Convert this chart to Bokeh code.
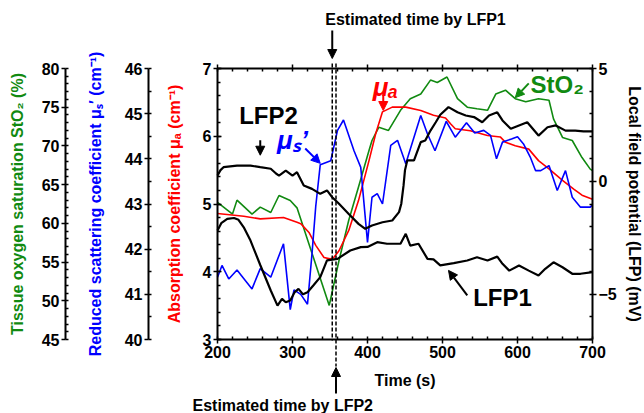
from bokeh.plotting import figure
from bokeh.models import (Range1d, LinearAxis, FixedTicker, Label, Arrow, NormalHead,
                          CustomJSTickFormatter)
from bokeh.embed import file_html
from bokeh.resources import INLINE

# ---------------- data ----------------
time_sto2 = [200, 220, 226, 246, 257, 271, 282, 297, 306, 349, 362, 375, 388, 402, 406, 415, 428,
             444, 457, 471, 484, 493, 506, 520, 533, 546, 560, 571, 584, 597, 611, 628, 642, 648,
             660, 673, 686, 697, 700]
sto2 = [62.7, 61.2, 63.0, 61.2, 62.1, 61.4, 63.6, 62.95, 62.0, 49.4, 55.2, 60.4, 64.7, 69.4, 70.7,
        72.4, 72.0, 74.6, 76.1, 76.7, 78.5, 78.2, 78.9, 76.1, 75.0, 74.8, 74.6, 76.7, 77.2, 76.1,
        75.7, 76.1, 75.9, 73.5, 71.1, 70.7, 68.5, 67.0, 66.8]

time_mua = [200, 235, 257, 288, 306, 311, 322, 331, 342, 350, 355, 362, 375, 388, 402, 411, 420,
            433, 451, 471, 488, 504, 511, 517, 537, 560, 577, 584, 597, 615, 628, 642, 660, 675,
            686, 700]
mua = [4.86, 4.82, 4.78, 4.80, 4.73, 4.71, 4.58, 4.39, 4.21, 4.19, 4.21, 4.31, 4.61, 5.05, 5.64,
       6.04, 6.36, 6.43, 6.43, 6.38, 6.31, 6.27, 6.18, 6.11, 6.08, 6.01, 5.99, 5.91, 5.86, 5.81,
       5.64, 5.52, 5.35, 5.22, 5.13, 5.07]

time_mus = [200, 206, 215, 226, 246, 257, 271, 288, 297, 302, 311, 320, 326, 331, 337, 351, 360,
            368, 382, 391, 400, 406, 413, 420, 431, 440, 451, 471, 480, 490, 505, 517, 532, 543,
            555, 564, 572, 580, 592, 600, 608, 617, 624, 631, 642, 653, 664, 673, 684, 697, 700]
mus = [41.38, 41.64, 41.34, 41.54, 41.12, 41.57, 41.38, 42.12, 40.66, 41.1, 41.0, 40.78, 41.9,
       42.95, 43.87, 43.96, 44.63, 44.86, 44.18, 43.81, 42.15, 43.15, 43.23, 43.0, 44.3, 44.41,
       43.89, 44.96, 44.55, 44.18, 44.83, 44.48, 44.8, 44.57, 44.63, 44.52, 44.0, 44.37, 44.44,
       44.49, 44.33, 44.04, 43.74, 43.74, 43.85, 43.30, 43.74, 43.15, 42.93, 42.93, 42.98]

time_lfp1 = [200, 205, 213, 222, 228, 235, 244, 257, 271, 280, 286, 291, 297, 303, 308, 314, 320,
             328, 337, 346, 360, 377, 391, 400, 413, 426, 444, 451, 457, 468, 480, 488, 497, 515,
             533, 546, 560, 573, 580, 589, 602, 615, 628, 637, 648, 660, 673, 684, 700]
lfp1 = [-2.17, -1.85, -1.66, -1.62, -1.70, -2.03, -2.62, -3.70, -4.83, -5.50, -5.20, -5.35, -5.27,
        -4.90, -4.76, -5.00, -4.91, -4.60, -4.24, -3.50, -3.43, -3.06, -2.91, -2.90, -2.69, -2.76,
        -2.76, -2.32, -2.84, -2.76, -3.43, -3.45, -3.72, -3.62, -3.50, -3.36, -3.50, -3.33, -3.65,
        -3.95, -3.72, -3.95, -4.17, -3.87, -3.58, -3.80, -4.09, -4.09, -4.02]

time_lfp2 = [200, 204, 208, 226, 244, 257, 271, 278, 282, 291, 300, 306, 315, 326, 337, 346, 353,
             362, 375, 388, 397, 406, 420, 433, 442, 445, 448, 450, 453, 462, 471, 477, 484, 491,
             497, 508, 520, 531, 542, 553, 562, 573, 580, 591, 602, 613, 628, 640, 651, 664, 677,
             688, 700]
lfp2 = [0.26, 0.50, 0.63, 0.70, 0.70, 0.63, 0.56, 0.35, 0.26, 0.48, 0.26, 0.41, -0.18, -0.33,
        -0.55, -0.40, -0.70, -0.99, -1.44, -1.88, -2.10, -1.95, -1.81, -1.73, -1.36, -1.00, -0.20,
        0.50, 0.93, 0.93, 1.74, 1.81, 2.25, 2.62, 2.95, 3.29, 3.06, 2.92, 2.85, 2.62, 2.92, 3.06,
        2.70, 2.33, 2.48, 2.62, 2.03, 2.40, 2.48, 2.25, 2.25, 2.22, 2.22]

est_time_lfp1 = 353
est_time_lfp2 = 358

time_ticks = [200, 300, 400, 500, 600, 700]
mua_ticks = [3, 4, 5, 6, 7]
mus_ticks = [40, 41, 42, 43, 44, 45, 46]
sto2_ticks = [45, 50, 55, 60, 65, 70, 75, 80]
lfp_ticks = [-5, 0, 5]

# ---------------- layout geometry (pixels) ----------------
W, H = 644, 413
FL, FR, FT, FB = 217, 592, 68, 339          # plot box
MUS_AXIS_PX, STO2_AXIS_PX = 148, 65          # x pixel of the two outer left axes

FONT = "Liberation Sans"
GREEN = "#118a11"
RED = "#ff0000"
BLUE = "#0000ff"


def x_range_full(lo, hi):
    s = (hi - lo) / (FR - FL)
    return lo - FL * s, lo + (W - FL) * s


def y_range_full(lo, hi):
    s = (hi - lo) / (FB - FT)
    return hi - (H - FT) * s, hi + FT * s


def px_to_t(px):
    s = (700 - 200) / (FR - FL)
    return 200 + (px - FL) * s


def py_to_mua(py):
    s = (7 - 3) / (FB - FT)
    return 7 - (py - FT) * s


def minor(lo, hi, step):
    n = int(round((hi - lo) / step))
    return [round(lo + i * step, 4) for i in range(n + 1)]


p = figure(width=W, height=H, output_backend="svg", toolbar_location=None,
           x_range=Range1d(*x_range_full(200, 700)), y_range=Range1d(*y_range_full(3, 7)),
           x_axis_location=None, y_axis_location=None, min_border=0)
p.extra_y_ranges = {"mus": Range1d(*y_range_full(40, 46)),
                    "sto2": Range1d(*y_range_full(45, 80)),
                    "lfp": Range1d(*y_range_full(-7, 5))}
p.grid.visible = False
p.outline_line_color = None
p.background_fill_color = "white"
p.border_fill_color = "white"


def make_axis(label="", color="black", standoff=10, **kw):
    ax = LinearAxis(**kw)
    ax.axis_label = label
    ax.axis_line_width = 2
    ax.major_tick_line_width = 1.5
    ax.minor_tick_line_width = 1.5
    ax.major_tick_out = 4
    ax.major_tick_in = 0
    ax.minor_tick_out = 0
    ax.minor_tick_in = 3
    ax.major_label_standoff = 2
    ax.major_label_text_font = FONT
    ax.major_label_text_font_style = "bold"
    ax.major_label_text_font_size = "16px"
    ax.major_label_text_color = "black"
    ax.axis_label_text_font = FONT
    ax.axis_label_text_font_style = "bold"
    ax.axis_label_text_font_size = "16px"
    ax.axis_label_text_color = color
    ax.axis_label_standoff = standoff
    return ax


# bottom time axis
xa = make_axis("Time (s)", standoff=11, fixed_location=3, bounds=(200, 700),
               ticker=FixedTicker(ticks=time_ticks, minor_ticks=minor(200, 700, 20)))
p.add_layout(xa, "below")

# top mirror axis (ticks only)
ta = make_axis(fixed_location=7, bounds=(200, 700),
               ticker=FixedTicker(ticks=time_ticks, minor_ticks=minor(200, 700, 20)),
               formatter=CustomJSTickFormatter(code="return ''"))
p.add_layout(ta, "above")

# absorption axis
ya = make_axis("Absorption coefficient \u03bc\u2090 (cm\u207b\u00b9)", RED, standoff=17,
               fixed_location=200, bounds=(3, 7),
               ticker=FixedTicker(ticks=mua_ticks, minor_ticks=minor(3, 7, 0.2)))
ya.major_tick_in = 4
p.add_layout(ya, "left")

# reduced scattering axis
mus_axis = make_axis("Reduced scattering coefficient \u03bc\u209b\u2032 (cm\u207b\u00b9)", BLUE,
                     standoff=18, y_range_name="mus", fixed_location=px_to_t(MUS_AXIS_PX),
                     bounds=(40, 46),
                     ticker=FixedTicker(ticks=mus_ticks, minor_ticks=minor(40, 46, 0.5)))
p.add_layout(mus_axis, "left")

# tissue oxygen saturation axis
sto2_axis = make_axis("Tissue oxygen saturation StO\u2082 (%)", GREEN, standoff=13,
                      y_range_name="sto2", fixed_location=px_to_t(STO2_AXIS_PX),
                      bounds=(45, 80),
                      ticker=FixedTicker(ticks=sto2_ticks, minor_ticks=minor(45, 80, 1)))
p.add_layout(sto2_axis, "left")

# local field potential axis
lfp_axis = make_axis("Local field potential (LFP) (mV)", "black", standoff=6,
                     y_range_name="lfp", fixed_location=700, bounds=(-7, 5),
                     ticker=FixedTicker(ticks=lfp_ticks, minor_ticks=minor(-7, 5, 1)))
p.add_layout(lfp_axis, "right")

# ---------------- curves ----------------
p.line(time_sto2, sto2, y_range_name="sto2", line_color=GREEN, line_width=1.6)
p.line(time_mua, mua, line_color=RED, line_width=1.6)
p.line(time_mus, mus, y_range_name="mus", line_color=BLUE, line_width=1.6)
p.line(time_lfp2, lfp2, y_range_name="lfp", line_color="black", line_width=2.2)
p.line(time_lfp1, lfp1, y_range_name="lfp", line_color="black", line_width=2.2)

# ---------------- estimated-time markers ----------------
p.segment(x0=[est_time_lfp1, est_time_lfp2], y0=[py_to_mua(63), py_to_mua(63)],
          x1=[est_time_lfp1, est_time_lfp2], y1=[py_to_mua(340), py_to_mua(366)],
          line_color="black", line_width=1.5, line_dash="4 2")


def arrow(x0, y0, x1, y1, color, size=9):
    p.add_layout(Arrow(end=NormalHead(size=size, fill_color=color, line_color=color),
                       x_start=x0, y_start=y0, x_end=x1, y_end=y1,
                       line_color=color, line_width=2))


def label(x, y, text, color="black", size="24px", style="bold", align="center", xoff=0):
    p.add_layout(Label(x=x, y=y, text=text, text_color=color, text_font=FONT,
                       text_font_size=size, text_font_style=style, text_align=align,
                       text_baseline="middle", x_offset=xoff))


arrow(est_time_lfp1, py_to_mua(30), est_time_lfp1, py_to_mua(58), "black")
label(est_time_lfp1, py_to_mua(19), "Estimated time by LFP1", size="16px", align="left", xoff=-7)
arrow(est_time_lfp2, py_to_mua(393), est_time_lfp2, py_to_mua(367), "black")
label(est_time_lfp2, py_to_mua(405), "Estimated time by LFP2", size="16px", align="right", xoff=37)

label(268, 6.30, "LFP2")
arrow(257, 5.94, 257, 5.72, "black")
label(580, 3.62, "LFP1")
arrow(533, 3.65, 508, 4.02, "black")
label(653, 6.76, "StO\u2082", color=GREEN)
arrow(615, 6.78, 597, 6.57, GREEN)
label(424, 6.72, "\u03bc\u2090", color=RED, size="26px", style="bold italic")
arrow(421, 6.60, 421, 6.38, RED)
label(300, 5.95, "\u03bc\u209b\u2019", color=BLUE, size="26px", style="bold italic")
arrow(317, 5.82, 337, 5.60, BLUE)

open("out.html", "w").write(file_html(p, INLINE))
